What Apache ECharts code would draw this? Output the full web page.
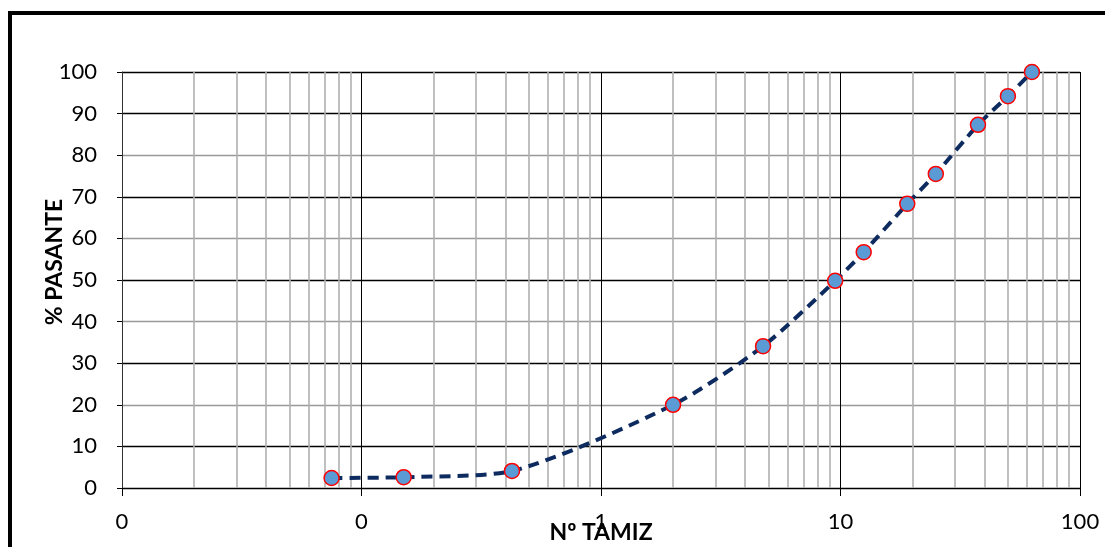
<!DOCTYPE html>
<html><head><meta charset="utf-8">
<script src="https://cdn.jsdelivr.net/npm/echarts@6/dist/echarts.min.js"></script>
<style>html,body{margin:0;padding:0;background:#fff}#c{width:1105px;height:547px}</style>
</head><body><div id="c"></div>
<script>
// Sieve openings (mm) and % passing
const sieveSizes = [0.075, 0.15, 0.425, 2, 4.75, 9.5, 12.5, 19, 25, 37.5, 50, 63];
const percentPassing = [2.4, 2.6, 4.1, 20.0, 34.1, 49.8, 56.7, 68.3, 75.5, 87.3, 94.2, 100];
const xTickLabels = ['0', '0', '1', '10', '100'];
const xTickValues = [0.01, 0.1, 1, 10, 100];
const yTickLabels = ['0','10','20','30','40','50','60','70','80','90','100'];
const xAxisTitle = 'Nº TAMIZ';
const yAxisTitle = '% PASANTE';

const minorLines = [];
for (let i = 0; i < xTickValues.length - 1; i++) {
  for (let k = 2; k <= 9; k++) minorLines.push({ xAxis: +(xTickValues[i] * k).toPrecision(3) });
}

const font = 'Lato, "Open Sans", sans-serif';
const chart = echarts.init(document.getElementById('c'), null, { renderer: 'canvas' });
chart.setOption({
  animation: false,
  backgroundColor: '#fff',
  grid: { left: 122, right: 25, top: 72, bottom: 59, outerBoundsMode: 'none', containLabel: false },
  xAxis: {
    type: 'log', logBase: 10, min: 0.01, max: 100,
    name: xAxisTitle, nameLocation: 'middle', nameGap: 33, nameMoveOverlap: false,
    nameTextStyle: { fontFamily: font, fontWeight: 'bold', fontSize: 23, color: '#000' },
    axisLine: { show: true, lineStyle: { color: '#000', width: 1 } },
    axisTick: { show: true, length: 8, lineStyle: { color: '#000' } },
    axisLabel: {
      margin: 23, fontFamily: font, fontSize: 22, color: '#000',
      formatter: function (v) {
        const i = xTickValues.findIndex(t => Math.abs(Math.log10(t) - Math.log10(v)) < 1e-6);
        return i >= 0 ? xTickLabels[i] : '';
      }
    },
    splitLine: { show: true, lineStyle: { color: '#000', width: 1 } }
  },
  yAxis: {
    type: 'value', min: 0, max: 100, interval: 10,
    axisLine: { show: true, lineStyle: { color: '#333', width: 1 } },
    axisTick: { show: true, inside: false, length: 5, lineStyle: { color: '#000' } },
    axisLabel: {
      margin: 25, fontFamily: font, fontSize: 22, color: '#000',
      formatter: function (v) { return yTickLabels[Math.round(v / 10)]; }
    },
    splitLine: { show: true, lineStyle: {
      color: ['#000','#000','#999','#000','#999','#000','#999','#000','#999','#000','#000'],
      width: 1.3 } }
  },
  graphic: [
    { type: 'polyline', shape: { points: [[10, 560], [10, 13], [1110, 13]] },
      style: { stroke: '#000', lineWidth: 4, fill: null }, z: 100 },
    { type: 'text', x: 55, y: 262, rotation: Math.PI / 2,
      style: { text: yAxisTitle, font: 'bold 23px ' + font, fill: '#000', align: 'center', verticalAlign: 'middle' } }
  ],
  series: [
    {
      type: 'line', data: [], z: 1, silent: true,
      markLine: {
        silent: true, symbol: 'none', animation: false,
        label: { show: false },
        lineStyle: { color: '#b0b0b0', width: 1.6, type: 'solid' },
        data: minorLines
      }
    },
    {
      type: 'line', z: 5,
      data: sieveSizes.map((s, i) => [s, percentPassing[i]]),
      smooth: 0.25,
      symbol: 'circle', symbolSize: 15,
      lineStyle: { color: '#0E2B60', width: 4, type: [11, 7] },
      itemStyle: { color: '#5B9BD5', borderColor: '#FF0000', borderWidth: 1.5 }
    }
  ]
});
</script></body></html>
